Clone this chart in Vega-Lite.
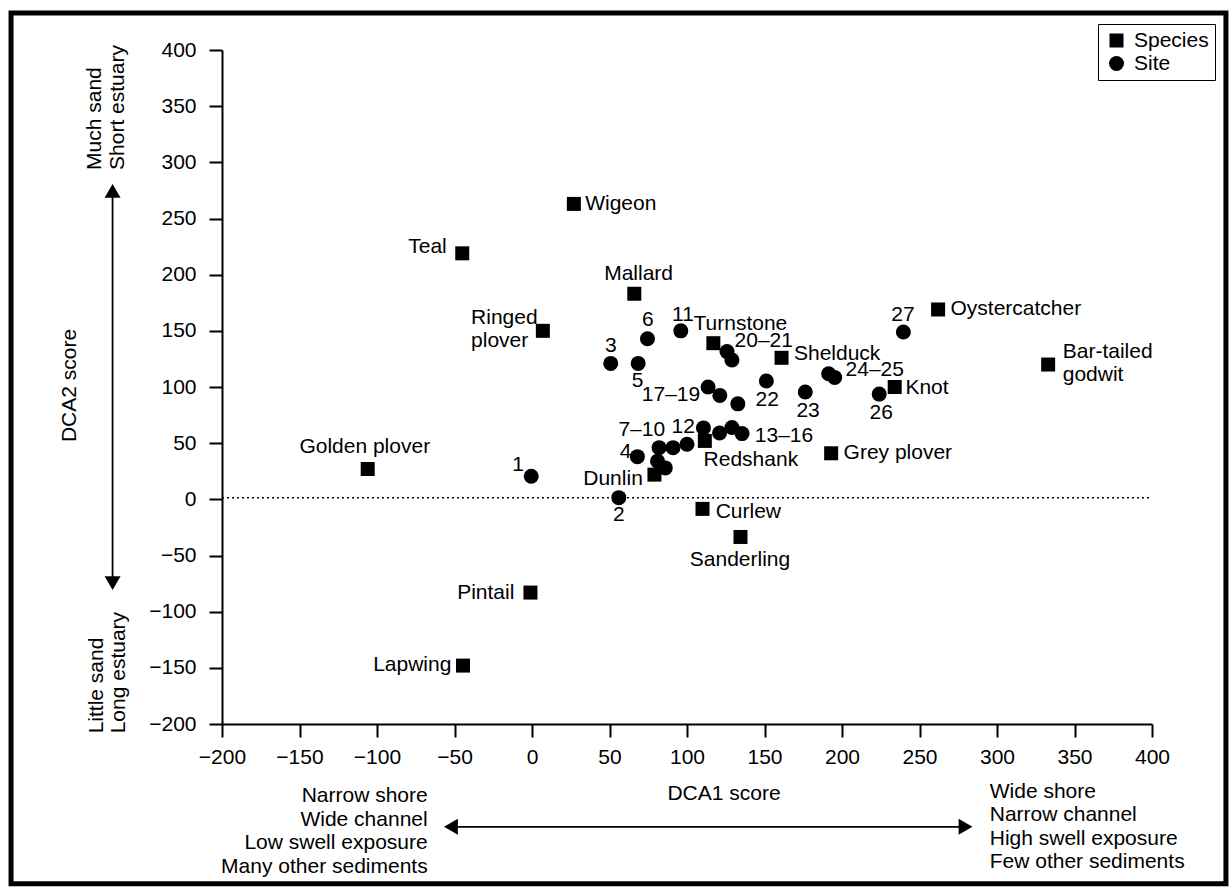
{
  "$schema": "https://vega.github.io/schema/vega-lite/v6.json",
  "width": 930,
  "height": 674,
  "autosize": {"type": "none"},
  "padding": {"left": 222, "top": 50, "right": 78, "bottom": 164},
  "background": "white",
  "config": {"font": "Liberation Sans", "view": {"stroke": null}},
  "datasets": {
    "frame": [{"x": -336.1, "x2": 447.7, "y": 432.9, "y2": -342.3}],
    "zero": [{"x": -200, "x2": 400, "y": 1.5}],
    "arrows": [
      {"x": -270.6, "x2": -270.6, "y": -72, "y2": 272},
      {"x": -52, "x2": 279, "y": -291.5, "y2": -291.5}
    ],
    "heads": [
      {"x": -270.6, "y": 274.6, "shape": "triangle-up"},
      {"x": -270.6, "y": -74.6, "shape": "triangle-down"},
      {"x": -52.3, "y": -291.5, "shape": "triangle-left"},
      {"x": 279.7, "y": -291.5, "shape": "triangle-right"}
    ],
    "points": [
      {"type": "Species", "name": "Wigeon", "x": 27, "y": 263},
      {"type": "Species", "name": "Teal", "x": -45, "y": 219},
      {"type": "Species", "name": "Mallard", "x": 66, "y": 183},
      {"type": "Species", "name": "Ringed plover", "x": 7, "y": 150},
      {"type": "Species", "name": "Turnstone", "x": 117, "y": 139},
      {"type": "Species", "name": "Shelduck", "x": 161, "y": 126},
      {"type": "Species", "name": "Oystercatcher", "x": 262, "y": 169},
      {"type": "Species", "name": "Bar-tailed godwit", "x": 333, "y": 120},
      {"type": "Species", "name": "Knot", "x": 234, "y": 100},
      {"type": "Species", "name": "Grey plover", "x": 193, "y": 41},
      {"type": "Species", "name": "Redshank", "x": 111.5, "y": 52},
      {"type": "Species", "name": "Dunlin", "x": 79, "y": 22},
      {"type": "Species", "name": "Curlew", "x": 110, "y": -8.5},
      {"type": "Species", "name": "Sanderling", "x": 134.5, "y": -33.5},
      {"type": "Species", "name": "Golden plover", "x": -106, "y": 27},
      {"type": "Species", "name": "Pintail", "x": -1, "y": -83},
      {"type": "Species", "name": "Lapwing", "x": -44.5, "y": -148},
      {"type": "Site", "name": "1", "x": -0.5, "y": 20.5},
      {"type": "Site", "name": "2", "x": 56, "y": 1.5},
      {"type": "Site", "name": "3", "x": 50.8, "y": 121},
      {"type": "Site", "name": "4", "x": 68, "y": 38},
      {"type": "Site", "name": "5", "x": 68.5, "y": 121},
      {"type": "Site", "name": "6", "x": 74.5, "y": 143},
      {"type": "Site", "name": "7", "x": 81, "y": 34},
      {"type": "Site", "name": "8", "x": 86, "y": 28},
      {"type": "Site", "name": "9", "x": 82, "y": 46},
      {"type": "Site", "name": "10", "x": 91, "y": 46},
      {"type": "Site", "name": "11", "x": 96, "y": 150},
      {"type": "Site", "name": "12", "x": 100, "y": 49},
      {"type": "Site", "name": "13", "x": 110.6, "y": 63.6},
      {"type": "Site", "name": "14", "x": 121, "y": 59},
      {"type": "Site", "name": "15", "x": 129, "y": 64},
      {"type": "Site", "name": "16", "x": 135.5, "y": 58.5},
      {"type": "Site", "name": "17", "x": 113.6, "y": 100},
      {"type": "Site", "name": "18", "x": 121.2, "y": 92.5},
      {"type": "Site", "name": "19", "x": 132.8, "y": 85},
      {"type": "Site", "name": "20", "x": 125.8, "y": 131.5},
      {"type": "Site", "name": "21", "x": 129, "y": 124},
      {"type": "Site", "name": "22", "x": 151.2, "y": 105.4},
      {"type": "Site", "name": "23", "x": 176.3, "y": 95.5},
      {"type": "Site", "name": "24", "x": 191.4, "y": 111.8},
      {"type": "Site", "name": "25", "x": 195.3, "y": 108.5},
      {"type": "Site", "name": "26", "x": 224, "y": 93.7},
      {"type": "Site", "name": "27", "x": 239.6, "y": 149}
    ],
    "labels": [
      {"label": "Teal", "x": -55, "y": 225, "pos": "l"},
      {"label": "17–19", "x": 108.5, "y": 93, "pos": "l"},
      {"label": "Dunlin", "x": 71.5, "y": 18, "pos": "l"},
      {"label": "Pintail", "x": -11.4, "y": -83, "pos": "l"},
      {"label": "Lapwing", "x": -52, "y": -147.3, "pos": "l"},
      {"label": "Wigeon", "x": 34.3, "y": 263, "pos": "r"},
      {"label": "Ringed\nplover", "x": -39.3, "y": 161.4, "pos": "r"},
      {"label": "Turnstone", "x": 104.2, "y": 156.4, "pos": "r"},
      {"label": "20–21", "x": 130.7, "y": 140.6, "pos": "r"},
      {"label": "Shelduck", "x": 169, "y": 129.6, "pos": "r"},
      {"label": "24–25", "x": 202.3, "y": 114.8, "pos": "r"},
      {"label": "Knot", "x": 240.9, "y": 99, "pos": "r"},
      {"label": "Oystercatcher", "x": 270, "y": 169, "pos": "r"},
      {"label": "Bar-tailed\ngodwit", "x": 342.4, "y": 130.8, "pos": "r"},
      {"label": "13–16", "x": 143.75, "y": 56, "pos": "r"},
      {"label": "Redshank", "x": 110.7, "y": 34.6, "pos": "r"},
      {"label": "Grey plover", "x": 201, "y": 41, "pos": "r"},
      {"label": "Curlew", "x": 118.5, "y": -11.2, "pos": "r"},
      {"label": "Mallard", "x": 68.75, "y": 201, "pos": "c"},
      {"label": "6", "x": 74.7, "y": 159.4, "pos": "c"},
      {"label": "11", "x": 97.4, "y": 164.4, "pos": "c"},
      {"label": "3", "x": 50.8, "y": 136.2, "pos": "c"},
      {"label": "5", "x": 68.2, "y": 105, "pos": "c"},
      {"label": "22", "x": 151.8, "y": 88.6, "pos": "c"},
      {"label": "23", "x": 178.1, "y": 78.3, "pos": "c"},
      {"label": "26", "x": 225.3, "y": 76.8, "pos": "c"},
      {"label": "27", "x": 239.3, "y": 164.4, "pos": "c"},
      {"label": "7–10", "x": 70.8, "y": 61.5, "pos": "c"},
      {"label": "12", "x": 97.5, "y": 64.5, "pos": "c"},
      {"label": "4", "x": 60.4, "y": 42, "pos": "c"},
      {"label": "2", "x": 56, "y": -14.2, "pos": "c"},
      {"label": "1", "x": -8.9, "y": 30.2, "pos": "c"},
      {"label": "Golden plover", "x": -107.9, "y": 46.4, "pos": "c"},
      {"label": "Sanderling", "x": 134.2, "y": -54.1, "pos": "c"}
    ],
    "notes": [
      {"text": "Narrow shore\nWide channel\nLow swell exposure\nMany other sediments", "x": -67.3, "y": -264.1, "kind": "bl"},
      {"text": "Wide shore\nNarrow channel\nHigh swell exposure\nFew other sediments", "x": 295.3, "y": -260.5, "kind": "br"},
      {"text": "Much sand\nShort estuary", "x": -281.9, "y": 293.2, "kind": "rot"},
      {"text": "Little sand\nLong estuary", "x": -280.8, "y": -208.3, "kind": "rot"}
    ]
  },
  "layer": [
    {
      "data": {"name": "frame"},
      "mark": {"type": "rect", "filled": false, "color": "black", "strokeWidth": 5},
      "encoding": {
        "x": {
          "field": "x", "type": "quantitative", "title": "DCA1 score",
          "scale": {"domain": [-200, 400], "nice": false, "zero": false},
          "axis": {
            "values": [-200, -150, -100, -50, 0, 50, 100, 150, 200, 250, 300, 350, 400],
            "grid": false, "domainColor": "black", "domainWidth": 2,
            "tickColor": "black", "tickWidth": 2, "tickSize": 13,
            "labelFontSize": 21, "labelColor": "black", "labelPadding": 9,
            "labelFlush": false, "labelOverlap": false,
            "title": "DCA1 score", "titleFontSize": 21, "titleFontWeight": "normal",
            "titleColor": "black", "titleX": 501.5, "titleY": 69,
            "titleBaseline": "middle", "titleAlign": "center"
          }
        },
        "x2": {"field": "x2"},
        "y": {
          "field": "y", "type": "quantitative", "title": "DCA2 score",
          "scale": {"domain": [-200, 400], "nice": false, "zero": false},
          "axis": {
            "values": [-200, -150, -100, -50, 0, 50, 100, 150, 200, 250, 300, 350, 400],
            "grid": false, "domainColor": "black", "domainWidth": 2,
            "tickColor": "black", "tickWidth": 2, "tickSize": 13,
            "labelFontSize": 21, "labelColor": "black", "labelPadding": 13,
            "labelOverlap": false, "labelFlush": false,
            "title": "DCA2 score", "titleFontSize": 21, "titleFontWeight": "normal",
            "titleColor": "black", "titleX": -153, "titleY": 335, "titleAngle": 270,
            "titleBaseline": "middle", "titleAlign": "center"
          }
        },
        "y2": {"field": "y2"}
      }
    },
    {
      "data": {"name": "zero"},
      "mark": {"type": "rule", "color": "black", "strokeWidth": 1.5, "strokeDash": [2, 3]},
      "encoding": {
        "x": {"field": "x", "type": "quantitative", "title": "DCA1 score", "scale": {"domain": [-200, 400], "nice": false, "zero": false}},
        "x2": {"field": "x2"},
        "y": {"field": "y", "type": "quantitative", "title": "DCA2 score", "scale": {"domain": [-200, 400], "nice": false, "zero": false}}
      }
    },
    {
      "data": {"name": "arrows"},
      "mark": {"type": "rule", "color": "black", "strokeWidth": 1.8},
      "encoding": {
        "x": {"field": "x", "type": "quantitative", "title": "DCA1 score", "scale": {"domain": [-200, 400], "nice": false, "zero": false}},
        "x2": {"field": "x2"},
        "y": {"field": "y", "type": "quantitative", "title": "DCA2 score", "scale": {"domain": [-200, 400], "nice": false, "zero": false}},
        "y2": {"field": "y2"}
      }
    },
    {
      "data": {"name": "heads"},
      "mark": {"type": "point", "filled": true, "color": "black", "opacity": 1, "size": 256, "strokeWidth": 0},
      "encoding": {
        "x": {"field": "x", "type": "quantitative", "title": "DCA1 score", "scale": {"domain": [-200, 400], "nice": false, "zero": false}},
        "y": {"field": "y", "type": "quantitative", "title": "DCA2 score", "scale": {"domain": [-200, 400], "nice": false, "zero": false}},
        "shape": {"field": "shape", "type": "nominal", "scale": null}
      }
    },
    {
      "data": {"name": "points"},
      "mark": {"type": "point", "filled": true, "color": "black", "opacity": 1, "strokeWidth": 0},
      "encoding": {
        "x": {"field": "x", "type": "quantitative", "title": "DCA1 score", "scale": {"domain": [-200, 400], "nice": false, "zero": false}},
        "y": {"field": "y", "type": "quantitative", "title": "DCA2 score", "scale": {"domain": [-200, 400], "nice": false, "zero": false}},
        "shape": {
          "field": "type", "type": "nominal",
          "scale": {"domain": ["Species", "Site"], "range": ["square", "circle"]},
          "legend": {
            "title": null, "orient": "none", "legendX": 876, "legendY": -26,
            "strokeColor": "black", "padding": 6, "rowPadding": 1,
            "labelFontSize": 21, "labelColor": "black", "labelOffset": 7,
            "symbolSize": 240, "symbolFillColor": "black", "symbolStrokeWidth": 0,
            "symbolOffset": 2,
            "encode": {"legend": {"update": {"strokeWidth": {"value": 2}}}}
          }
        },
        "size": {
          "field": "type", "type": "nominal",
          "scale": {"domain": ["Species", "Site"], "range": [196, 225]},
          "legend": null
        }
      }
    },
    {
      "data": {"name": "labels"},
      "transform": [{"filter": "datum.pos === 'l'"}],
      "mark": {"type": "text", "align": "right", "baseline": "middle", "fontSize": 21, "color": "black", "lineBreak": "\n", "lineHeight": 23},
      "encoding": {
        "x": {"field": "x", "type": "quantitative", "title": "DCA1 score", "scale": {"domain": [-200, 400], "nice": false, "zero": false}},
        "y": {"field": "y", "type": "quantitative", "title": "DCA2 score", "scale": {"domain": [-200, 400], "nice": false, "zero": false}},
        "text": {"field": "label"}
      }
    },
    {
      "data": {"name": "labels"},
      "transform": [{"filter": "datum.pos === 'r'"}],
      "mark": {"type": "text", "align": "left", "baseline": "middle", "fontSize": 21, "color": "black", "lineBreak": "\n", "lineHeight": 23},
      "encoding": {
        "x": {"field": "x", "type": "quantitative", "title": "DCA1 score", "scale": {"domain": [-200, 400], "nice": false, "zero": false}},
        "y": {"field": "y", "type": "quantitative", "title": "DCA2 score", "scale": {"domain": [-200, 400], "nice": false, "zero": false}},
        "text": {"field": "label"}
      }
    },
    {
      "data": {"name": "labels"},
      "transform": [{"filter": "datum.pos === 'c'"}],
      "mark": {"type": "text", "align": "center", "baseline": "middle", "fontSize": 21, "color": "black", "lineBreak": "\n", "lineHeight": 23},
      "encoding": {
        "x": {"field": "x", "type": "quantitative", "title": "DCA1 score", "scale": {"domain": [-200, 400], "nice": false, "zero": false}},
        "y": {"field": "y", "type": "quantitative", "title": "DCA2 score", "scale": {"domain": [-200, 400], "nice": false, "zero": false}},
        "text": {"field": "label"}
      }
    },
    {
      "data": {"name": "notes"},
      "transform": [{"filter": "datum.kind === 'bl'"}],
      "mark": {"type": "text", "align": "right", "baseline": "middle", "fontSize": 21, "color": "black", "lineBreak": "\n", "lineHeight": 23.5},
      "encoding": {
        "x": {"field": "x", "type": "quantitative", "title": "DCA1 score", "scale": {"domain": [-200, 400], "nice": false, "zero": false}},
        "y": {"field": "y", "type": "quantitative", "title": "DCA2 score", "scale": {"domain": [-200, 400], "nice": false, "zero": false}},
        "text": {"field": "text"}
      }
    },
    {
      "data": {"name": "notes"},
      "transform": [{"filter": "datum.kind === 'br'"}],
      "mark": {"type": "text", "align": "left", "baseline": "middle", "fontSize": 21, "color": "black", "lineBreak": "\n", "lineHeight": 23.5},
      "encoding": {
        "x": {"field": "x", "type": "quantitative", "title": "DCA1 score", "scale": {"domain": [-200, 400], "nice": false, "zero": false}},
        "y": {"field": "y", "type": "quantitative", "title": "DCA2 score", "scale": {"domain": [-200, 400], "nice": false, "zero": false}},
        "text": {"field": "text"}
      }
    },
    {
      "data": {"name": "notes"},
      "transform": [{"filter": "datum.kind === 'rot'"}],
      "mark": {"type": "text", "align": "left", "baseline": "middle", "angle": 270, "fontSize": 21, "color": "black", "lineBreak": "\n", "lineHeight": 22.5},
      "encoding": {
        "x": {"field": "x", "type": "quantitative", "title": "DCA1 score", "scale": {"domain": [-200, 400], "nice": false, "zero": false}},
        "y": {"field": "y", "type": "quantitative", "title": "DCA2 score", "scale": {"domain": [-200, 400], "nice": false, "zero": false}},
        "text": {"field": "text"}
      }
    }
  ]
}
